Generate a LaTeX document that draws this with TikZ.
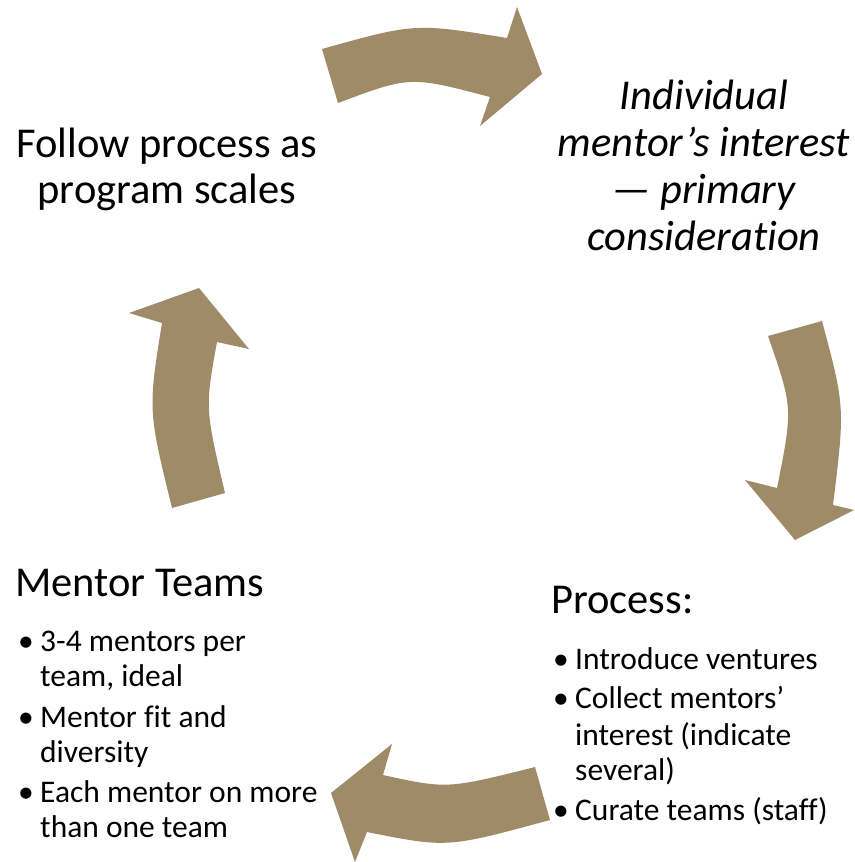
\documentclass[tikz,border=0pt]{standalone}
\usepackage{fontspec}
\setmainfont{Carlito}[Ligatures=NoCommon]
\definecolor{arrowtan}{RGB}{160,139,104}
\begin{document}
\begin{tikzpicture}[x=1pt,y=-1pt,
  cyclearrow/.style={fill=arrowtan, draw=none},
  bigline/.style={font=\fontsize{42.5}{46}\selectfont, inner sep=0pt, anchor=base},
  headline/.style={font=\fontsize{42.5}{46}\selectfont, inner sep=0pt, anchor=base west},
  itline/.style={font=\fontsize{42.5}{46}\selectfont\itshape, inner sep=0pt, anchor=base},
  bulline/.style={font=\fontsize{31.5}{35}\selectfont, inner sep=0pt, anchor=base west}]
\useasboundingbox (0,0) rectangle (854,862);

% four curved arrows forming the cycle
\fill[cyclearrow] (322,49) .. controls (415,23) .. (507,38) -- (517,7) -- (542,74)
  -- (480,126) -- (490,97) .. controls (410,76) .. (338,103) -- cycle;
\fill[cyclearrow] (768,336) -- (822,321) .. controls (845,407) .. (833,505)
  -- (854,510) -- (795,540) -- (745,480) -- (777,488)
  .. controls (793,408) .. cycle;
\fill[cyclearrow] (199,288) -- (249,349) -- (217,342) .. controls (205,408) .. (225,493)
  -- (172,508) .. controls (148,410) .. (162,323) -- (129,313) -- cycle;
\fill[cyclearrow] (331,793) -- (392,744) -- (383,775) .. controls (447,789) .. (535,767)
  -- (550,820) .. controls (447,848) .. (367,832) -- (355,862) -- cycle;

% top left: follow process
\node[bigline] (follow1) at (167,157) {Follow process as};
\node[bigline] (follow2) at (167,203) {program scales};

% top right: mentor's interest
\node[itline] (ind1) at (704,109) {Individual};
\node[itline] (ind2) at (704,156) {mentor’s interest};
\node[itline] (ind3) at (704,203) {— primary};
\node[itline] (ind4) at (704,250) {consideration};

% bottom left: mentor teams
\node[headline] (teams) at (15,596) {Mentor Teams};
\node[bulline] (tb1) at (18,651) {•};
\node[bulline] (tl1) at (40,651) {3-4 mentors per};
\node[bulline] (tl2) at (40,686) {team, ideal};
\node[bulline] (tb2) at (18,727) {•};
\node[bulline] (tl3) at (40,727) {Mentor fit and};
\node[bulline] (tl4) at (40,762) {diversity};
\node[bulline] (tb3) at (18,802) {•};
\node[bulline] (tl5) at (40,802) {Each mentor on more};
\node[bulline] (tl6) at (40,837) {than one team};

% bottom right: process
\node[headline] (proc) at (551,613) {Process:};
\node[bulline] (pb1) at (553,669) {•};
\node[bulline] (pl1) at (575,669) {Introduce ventures};
\node[bulline] (pb2) at (553,708) {•};
\node[bulline] (pl2) at (575,708) {Collect mentors’};
\node[bulline] (pl3) at (575,745) {interest (indicate};
\node[bulline] (pl4) at (575,780) {several)};
\node[bulline] (pb3) at (553,820) {•};
\node[bulline] (pl5) at (575,820) {Curate teams (staff)};
\end{tikzpicture}
\end{document}
